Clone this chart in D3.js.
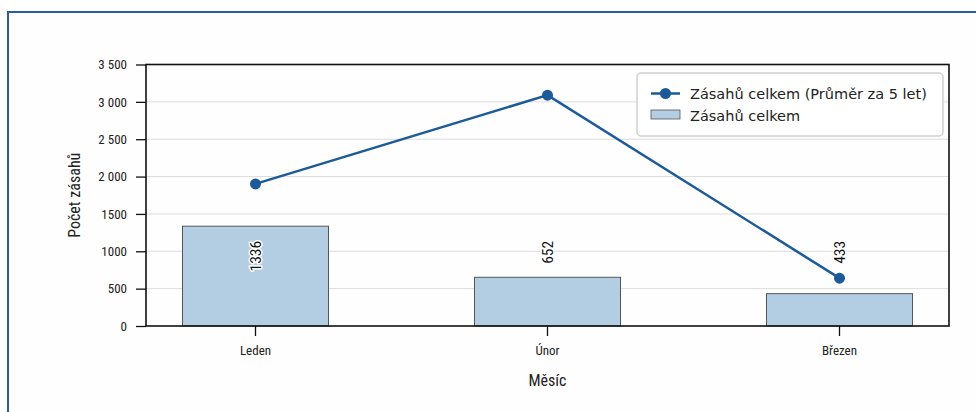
<!DOCTYPE html>
<html><head><meta charset="utf-8">
<script src="https://cdn.jsdelivr.net/npm/d3@7/dist/d3.min.js"></script>
<style>
html,body{margin:0;padding:0;background:#fff;}
svg{display:block;}
.cond{font-family:"Roboto Condensed","Roboto",sans-serif;font-stretch:condensed;}
</style></head>
<body>
<script>
const categories = ["Leden", "Únor", "Březen"];
const barValues = [1336, 652, 433];
const lineValues = [1902, 3090, 640];
const yTickValues = [0, 500, 1000, 1500, 2000, 2500, 3000, 3500];
const yTickLabels = ["0", "500", "1000", "1500", "2 000", "2 500", "3 000", "3 500"];
const seriesNames = ["Zásahů celkem (Průměr za 5 let)", "Zásahů celkem"];
const xTitle = "Měsíc";
const yTitle = "Počet zásahů";

const W = 976, H = 412;
const m = {left: 146, right: 27, top: 64.5, bottom: 86};
const svg = d3.select("body").append("svg").attr("width", W).attr("height", H);

// outer frame
svg.append("rect").attr("x", 8).attr("y", 12).attr("width", 1000).attr("height", 450)
  .attr("fill", "#fefefe").attr("stroke", "#2a5d9b").attr("stroke-width", 2);

const x = d3.scaleBand().domain(categories).range([m.left, W - m.right])
  .paddingInner(0.5).paddingOuter(0.125);
const y = d3.scaleLinear().domain([0, 3500]).range([H - m.bottom, m.top]);

const g = svg.append("g");

// grid
g.append("g").selectAll("line").data(yTickValues.slice(1, -1)).join("line")
  .attr("x1", m.left).attr("x2", W - m.right)
  .attr("y1", d => y(d)).attr("y2", d => y(d))
  .attr("stroke", "#dcdcdc").attr("stroke-width", 1);

// bars
g.append("g").selectAll("rect").data(barValues).join("rect")
  .attr("x", (d, i) => x(categories[i]))
  .attr("y", d => y(d))
  .attr("width", x.bandwidth())
  .attr("height", d => y(0) - y(d))
  .attr("fill", "#b3cde3").attr("stroke", "#555").attr("stroke-width", 1);

// line
const cx = (d, i) => x(categories[i]) + x.bandwidth() / 2;
g.append("path").datum(lineValues)
  .attr("d", d3.line().x(cx).y(d => y(d)))
  .attr("fill", "none").attr("stroke", "#1c5a99").attr("stroke-width", 2.5);
g.append("g").selectAll("circle").data(lineValues).join("circle")
  .attr("cx", cx).attr("cy", d => y(d)).attr("r", 5.5).attr("fill", "#1c5a99");

// bar labels
const labelY = y(1140);
g.append("g").selectAll("text").data(barValues).join("text")
  .attr("class", "cond")
  .attr("transform", (d, i) => `translate(${cx(d, i) + 5.5},${labelY}) rotate(-90)`)
  .attr("text-anchor", "end")
  .attr("font-size", 15.5)
  .attr("fill", "#111")
  .attr("stroke", "#fff").attr("stroke-width", 3).attr("paint-order", "stroke")
  .attr("stroke-linejoin", "round")
  .text(d => d);

// axes
const yAxis = d3.axisLeft(y).tickValues(yTickValues)
  .tickFormat((d, i) => yTickLabels[i]).tickSize(10).tickPadding(9);
const ya = svg.append("g").attr("transform", `translate(${m.left},0)`).call(yAxis);
const xAxis = d3.axisBottom(x).tickSize(10).tickPadding(10);
const xa = svg.append("g").attr("transform", `translate(0,${H - m.bottom})`).call(xAxis);
[ya, xa].forEach(a => {
  a.select(".domain").remove();
  a.selectAll("line").attr("stroke", "#111").attr("stroke-width", 1.3);
  a.selectAll("text").attr("class", "cond").attr("font-size", 13).attr("fill", "#222");
});

// plot frame
svg.append("rect").attr("x", m.left).attr("y", m.top)
  .attr("width", W - m.right - m.left).attr("height", H - m.bottom - m.top)
  .attr("fill", "none").attr("stroke", "#111").attr("stroke-width", 1.6);

// titles
svg.append("text").attr("class", "cond").attr("x", (m.left + W - m.right) / 2).attr("y", 386)
  .attr("text-anchor", "middle").attr("font-size", 16).attr("fill", "#222").text(xTitle);
svg.append("text").attr("class", "cond")
  .attr("transform", `translate(80,${(m.top + H - m.bottom) / 2}) rotate(-90)`)
  .attr("text-anchor", "middle").attr("font-size", 16).attr("fill", "#222").text(yTitle);

// legend
const lg = svg.append("g").attr("transform", "translate(637,73)");
lg.append("rect").attr("width", 306).attr("height", 63).attr("rx", 4)
  .attr("fill", "#fff").attr("stroke", "#cfcfcf").attr("stroke-width", 1.5);
lg.append("line").attr("x1", 14).attr("x2", 43).attr("y1", 20.5).attr("y2", 20.5)
  .attr("stroke", "#1c5a99").attr("stroke-width", 2.5);
lg.append("circle").attr("cx", 28.5).attr("cy", 20.5).attr("r", 5.5).attr("fill", "#1c5a99");
lg.append("rect").attr("x", 14).attr("y", 37).attr("width", 29).attr("height", 9)
  .attr("fill", "#b3cde3").attr("stroke", "#555").attr("stroke-width", 0.8);
lg.selectAll("text.lt").data(seriesNames).join("text").attr("class", "lt")
  .attr("x", 53).attr("y", (d, i) => 26 + i * 22)
  .attr("font-family", "DejaVu Sans, sans-serif").attr("font-size", 14.5).attr("fill", "#222")
  .text(d => d);
</script>
</body></html>
